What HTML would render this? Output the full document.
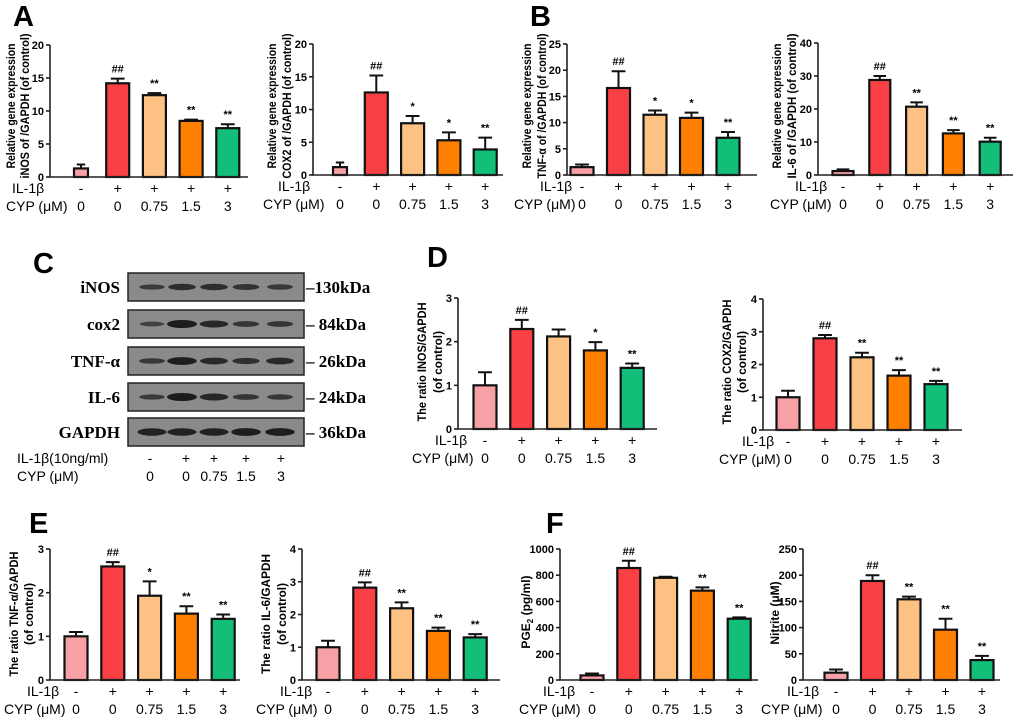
<!DOCTYPE html>
<html><head><meta charset="utf-8">
<style>
html,body{margin:0;padding:0;background:#fff;}
svg{display:block;font-family:"Liberation Sans",Arial,sans-serif;}
.tk{font-size:11px;font-weight:bold;text-anchor:end;}
.yt{font-size:12px;font-weight:bold;text-anchor:middle;}
.row{font-size:14px;}
.ann{font-size:11px;font-weight:bold;text-anchor:middle;}
.pl{font-size:29px;font-weight:bold;}
.wb{font-family:"Liberation Serif",serif;font-size:17px;font-weight:bold;}
</style></head>
<body>
<svg id="fig" width="1020" height="720" viewBox="0 0 1020 720" xmlns="http://www.w3.org/2000/svg">
<text class="pl" x="13" y="26">A</text>
<text class="pl" x="530" y="26">B</text>
<text class="pl" x="33" y="273">C</text>
<text class="pl" x="427" y="267">D</text>
<text class="pl" x="29" y="533">E</text>
<text class="pl" x="546" y="533">F</text>
<g id="blot"></g>
<g id="charts"></g>
</svg>
<script>
// ---- shared data ----
const categories = ["Control","IL-1β","IL-1β+CYP 0.75","IL-1β+CYP 1.5","IL-1β+CYP 3"];
const ilLabels = ["-","+","+","+","+"];
const cypLabels = ["0","0","0.75","1.5","3"];
const barColors = ["#f7a1a6","#f94145","#fdc283","#ff8000","#13bf78"];
// ---- series data ----
const a1Values = [1.3,14.2,12.4,8.5,7.4];
const a1Errors = [0.6,0.7,0.3,0.2,0.6];
const a1Ann = ["","##","**","**","**"];
const a2Values = [1.2,12.6,7.9,5.3,3.9];
const a2Errors = [0.7,2.6,1.1,1.2,1.8];
const a2Ann = ["","##","*","*","**"];
const b1Values = [1.5,16.6,11.5,10.9,7.1];
const b1Errors = [0.5,3.2,0.8,1.0,1.1];
const b1Ann = ["","##","*","*","**"];
const b2Values = [1.2,28.8,20.7,12.6,10.1];
const b2Errors = [0.5,1.2,1.3,1.0,1.2];
const b2Ann = ["","##","**","**","**"];
const d1Values = [1.0,2.29,2.12,1.8,1.4];
const d1Errors = [0.3,0.21,0.16,0.19,0.1];
const d1Ann = ["","##","","*","**"];
const d2Values = [1.0,2.8,2.22,1.66,1.4];
const d2Errors = [0.2,0.1,0.14,0.17,0.1];
const d2Ann = ["","##","**","**","**"];
const e1Values = [1.0,2.6,1.93,1.52,1.4];
const e1Errors = [0.1,0.1,0.33,0.17,0.1];
const e1Ann = ["","##","*","**","**"];
const e2Values = [1.0,2.82,2.19,1.5,1.3];
const e2Errors = [0.2,0.16,0.18,0.1,0.1];
const e2Ann = ["","##","**","**","**"];
const f1Values = [35,855,780,682,468];
const f1Errors = [15,55,8,25,10];
const f1Ann = ["","##","","**","**"];
const f2Values = [14,189,154,96,38];
const f2Errors = [6,11,5,21,8];
const f2Ann = ["","##","**","**","**"];
// tick labels
const ticksA1 = [0,5,10,15,20];
const ticksA2 = [0,5,10,15,20];
const ticksB1 = [0,5,10,15,20,25];
const ticksB2 = [0,10,20,30,40];
const ticksD1 = [0,1,2,3];
const ticksD2 = [0,1,2,3,4];
const ticksE1 = [0,1,2,3];
const ticksE2 = [0,1,2,3,4];
const ticksF1 = [0,200,400,600,800,1000];
const ticksF2 = [0,50,100,150,200,250];

const NS="http://www.w3.org/2000/svg";
function mk(tag,attrs,parent,txt){const e=document.createElementNS(NS,tag);for(const k in attrs)e.setAttribute(k,attrs[k]);if(txt!==undefined)e.textContent=txt;parent.appendChild(e);return e;}

function chart(id,cfg,values,errors,anns,ticks){
  const g=mk('g',{},document.getElementById('charts'));
  
  
  const max=ticks[ticks.length-1];
  const y=v=>cfg.zero-(v/max)*(cfg.zero-cfg.top);
  const x=i=>cfg.b0+i*cfg.step;
  values.forEach((v,i)=>{
    const w=(i===0&&cfg.w0)?cfg.w0:cfg.bw;
    const cx=x(i);
    const r=mk('rect',{x:cx-w/2,y:y(v),width:w,height:cfg.zero-y(v),fill:barColors[i],stroke:'#111','stroke-width':2.2},g);
    
    
    const et=y(v+errors[i]);
    const el=mk('path',{d:`M${cx} ${y(v)}V${et}M${cx-w*0.3} ${et}H${cx+w*0.3}`,stroke:'#111','stroke-width':2,fill:'none'},g);
    
    
    if(anns[i]){
      const t=mk('text',{class:'ann',x:cx,y:et-6},g,anns[i]);
      
      
    }
    const p=mk('text',{class:'row','text-anchor':'middle',x:cx,y:cfg.zero+16},g,ilLabels[i]);
    
    
    const c=mk('text',{class:'row','text-anchor':'middle',x:cx,y:cfg.zero+34},g,cypLabels[i]);
    
    
  });
  const ax=mk('path',{d:`M${cfg.ax} ${cfg.top}V${cfg.zero}H${cfg.end}`,stroke:'#222','stroke-width':1.6,fill:'none'},g);
  
  
  ticks.forEach(t=>{
    mk('path',{d:`M${cfg.ax-4} ${y(t)}H${cfg.ax}`,stroke:'#222','stroke-width':1.6},g);
    const tl=mk('text',{class:'tk',x:cfg.ax-6,y:y(t)+4},g,t);
    
    
  });
  const mid=cfg.tmid||(cfg.top+cfg.zero)/2;
  cfg.title.forEach((line,k)=>{
    const tx=cfg.tx[k];
    const attrs={class:'yt',x:tx,y:mid,transform:`rotate(-90 ${tx} ${mid})`};
    if(cfg.tlen){attrs.textLength=cfg.tlen[k];attrs.lengthAdjust='spacingAndGlyphs';}
    const tt=mk('text',attrs,g);
    
    
    if(line==='PGE2'){tt.textContent='PGE';mk('tspan',{'font-size':'8','dy':'3'},tt,'2');mk('tspan',{'dy':'-3'},tt,' (pg/ml)');}
    else tt.textContent=line;
  });
  const l1=mk('text',{class:'row',x:cfg.lx1,y:cfg.zero+16},g,'IL-1β');
  
  
  const l2=mk('text',{class:'row',x:cfg.lx2,y:cfg.zero+34},g,'CYP (μM)');
  
  
}

const relLen=[125,145];
chart('chart-inos-mrna',{ax:50,top:45,zero:177,end:248,b0:81,step:36.7,bw:23,w0:14,title:['Relative gene expression','iNOS of /GAPDH (of control)'],tx:[15,29],tmid:106,tlen:relLen,lx1:12,lx2:6},a1Values,a1Errors,a1Ann,ticksA1);
chart('chart-cox2-mrna',{ax:313,top:44,zero:175,end:503,b0:340,step:36.3,bw:23,w0:14,title:['Relative gene expression','COX2 of /GAPDH (of control)'],tx:[276,291],tmid:106,tlen:relLen,lx1:278,lx2:263},a2Values,a2Errors,a2Ann,ticksA2);
chart('chart-tnf-mrna',{ax:567,top:44,zero:175,end:757,b0:582,step:36.5,bw:23,title:['Relative gene expression','TNF-α of /GAPDH (of control)'],tx:[531,546],tmid:106,tlen:relLen,lx1:540,lx2:514},b1Values,b1Errors,b1Ann,ticksB1);
chart('chart-il6-mrna',{ax:818,top:43,zero:175,end:1013,b0:843,step:36.8,bw:21,title:['Relative gene expression','IL-6 of /GAPDH (of control)'],tx:[781,796],tmid:106,tlen:relLen,lx1:795,lx2:770},b2Values,b2Errors,b2Ann,ticksB2);
chart('chart-inos-protein',{ax:458,top:298,zero:429,end:657,b0:485,step:36.8,bw:23,title:['The ratio INOS/GAPDH','(of control)'],tx:[426,442],tmid:362,tlen:[119,62],lx1:435,lx2:412},d1Values,d1Errors,d1Ann,ticksD1);
chart('chart-cox2-protein',{ax:763,top:299,zero:430,end:962,b0:788,step:37,bw:23,title:['The ratio COX2/GAPDH','(of control)'],tx:[731,746],tmid:362,tlen:[125,62],lx1:742,lx2:719},d2Values,d2Errors,d2Ann,ticksD2);
chart('chart-tnf-protein',{ax:50,top:549,zero:680,end:240,b0:76,step:36.8,bw:23,title:['The ratio  TNF-α/GAPDH','(of control)'],tx:[18,33],tmid:614,tlen:[125,62],lx1:27,lx2:4},e1Values,e1Errors,e1Ann,ticksE1);
chart('chart-il6-protein',{ax:302,top:549,zero:680,end:500,b0:328,step:36.8,bw:23,title:['The ratio  IL-6/GAPDH','(of control)'],tx:[270,286],tmid:614,tlen:[120,62],lx1:280,lx2:256},e2Values,e2Errors,e2Ann,ticksE2);
chart('chart-pge2',{ax:560,top:549,zero:680,end:758,b0:592,step:36.8,bw:23,title:['PGE2'],tx:[530],tmid:612,lx1:543,lx2:519},f1Values,f1Errors,f1Ann,ticksF1);
chart('chart-nitrite',{ax:803,top:549,zero:680,end:1000,b0:836,step:36.5,bw:23,title:['Nitrite (μM)'],tx:[779],tmid:613,lx1:787,lx2:761},f2Values,f2Errors,f2Ann,ticksF2);

// ---- western blot ----
const blotRows = ["iNOS","cox2","TNF-α","IL-6","GAPDH"];
const blotKda = ["–130kDa","– 84kDa","– 26kDa","– 24kDa","– 36kDa"];
const blotTops = [273,310,347,383,418];
const blotIntensity = [[0.45,0.7,0.7,0.6,0.5],[0.35,1,0.8,0.55,0.55],[0.5,0.95,0.75,0.65,0.75],[0.45,1,0.8,0.55,0.5],[0.9,0.9,0.9,0.95,0.95]];
const laneX=[152,182,214,246,280];
const blot=document.getElementById('blot');
blotRows.forEach((name,r)=>{
  const top=blotTops[r],h=28;
  const box=mk('rect',{x:128,y:top,width:176,height:h,fill:'#8a8a8a',stroke:'#222','stroke-width':1.5},blot);
  
  
  laneX.forEach((lx,i)=>{
    const k=blotIntensity[r][i];
    mk('ellipse',{cx:lx,cy:top+h/2,rx:11+4*k,ry:1.5+2.5*k,fill:'#1c1c1c',opacity:0.5+0.5*k},blot);
  });
  const lb=mk('text',{class:'wb','text-anchor':'end',x:120,y:top+20},blot,name);
  
  
  const kd=mk('text',{class:'wb',x:306,y:top+20,'font-size':'15'},blot,blotKda[r]);
  
  
});
const bl1=mk('text',{class:'row',x:17,y:463},blot,'IL-1β(10ng/ml)');


const bl2=mk('text',{class:'row',x:17,y:481},blot,'CYP (μM)');


const blotCypX=[150,186,214,246,281];
laneX.forEach((lx,i)=>{
  mk('text',{class:'row','text-anchor':'middle',x:blotCypX[i],y:463},blot,ilLabels[i]);
  mk('text',{class:'row','text-anchor':'middle',x:blotCypX[i],y:481},blot,cypLabels[i]);
});
</script>
</body></html>
